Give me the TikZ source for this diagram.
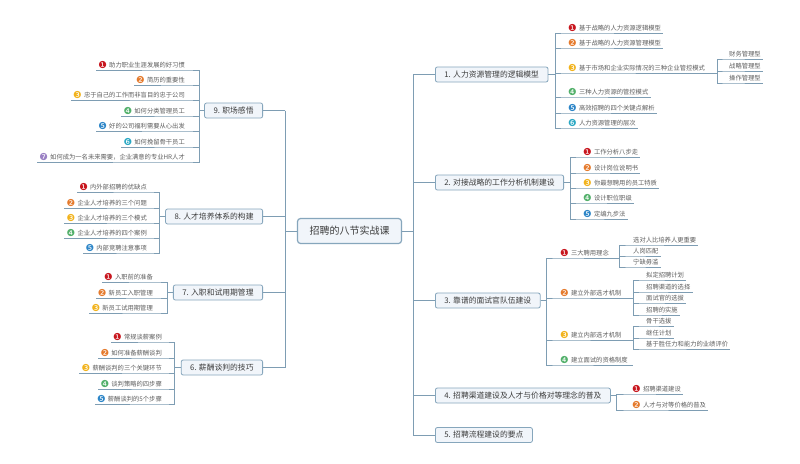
\documentclass[tikz,border=0pt]{standalone}
\usepackage{fontspec}
\setmainfont{Noto Sans CJK SC}
\newfontfamily\dingf{DejaVu Sans}
\usetikzlibrary{positioning}
\definecolor{lnc}{HTML}{7E9DB3}
\definecolor{boxc}{HTML}{86A6BC}
\definecolor{boxf}{HTML}{F1F5FA}
\definecolor{txc}{HTML}{3C3C3C}
\definecolor{itc}{HTML}{5E5E5E}
\definecolor{nc1}{HTML}{C8161E}
\definecolor{nc2}{HTML}{E57A2C}
\definecolor{nc3}{HTML}{F2B31C}
\definecolor{nc4}{HTML}{52B06A}
\definecolor{nc5}{HTML}{2D86C8}
\definecolor{nc6}{HTML}{2AA8C4}
\definecolor{nc7}{HTML}{9A80C4}
\newcommand\nb[1]{{\dingf\fontsize{9.6}{9.6}\selectfont\color{nc#1}\raisebox{-0.6pt}{\ifcase#1\or ❶\or ❷\or ❸\or ❹\or ❺\or ❻\or ❼\fi}}\hspace{2.2pt}}

\begin{document}
\begin{tikzpicture}[x=1pt,y=-1pt,
  ln/.style={draw=lnc,line width=0.8pt},
  topic/.style={draw=boxc,line width=1.2pt,fill=boxf,rounded corners=3pt,minimum width=104pt,minimum height=25pt,font=\fontsize{10}{10}\selectfont,text=txc},
  main/.style={draw=boxc,line width=0.8pt,fill=boxf,rounded corners=2pt,minimum height=15pt,inner xsep=9pt,font=\fontsize{7.8}{8}\selectfont,text=txc},
  sub/.style={inner xsep=2pt,inner ysep=1.2pt,text depth=1.2pt,font=\fontsize{6.3}{7}\selectfont,text=itc},
  subr/.style={sub,anchor=south west},
  subl/.style={sub,anchor=south east}]
  \fill[white] (0,0) rectangle (800,463);
  \useasboundingbox (0,0) rectangle (800,463);

  \node[topic] (c) at (349.5,231) {招聘的八节实战课};
  \coordinate (rt) at (413,0);
  \coordinate (lt) at (285,0);

  \node[main,anchor=west] (m1) at (435,74.5) {1. 人力资源管理的逻辑模型};
  \node[main,anchor=west] (m2) at (435,182.5) {2. 对接战略的工作分析机制建设};
  \node[main,anchor=west] (m3) at (435,300.5) {3. 靠谱的面试官队伍建设};
  \node[main,anchor=west] (m4) at (435,395.5) {4. 招聘渠道建设及人才与价格对等理念的普及};
  \node[main,anchor=west] (m5) at (435,435) {5. 招聘流程建设的要点};
  \node[main,anchor=east] (m9) at (263,110.5) {9. 职场感悟};
  \node[main,anchor=east] (m8) at (263,216.5) {8. 人才培养体系的构建};
  \node[main,anchor=east] (m7) at (263,292.5) {7. 入职和试用期管理};
  \node[main,anchor=east] (m6) at (263,367.5) {6. 薪酬谈判的技巧};

  \draw[ln] (c.east) -- (c.east -| rt);
  \draw[ln] (rt |- m1.west) -- (rt |- m5.west);
  \foreach \m in {m1,m2,m3,m4,m5}
    \draw[ln] (rt |- \m.west) -- (\m.west);
  \draw[ln] (c.west) -- (c.west -| lt);
  \draw[ln] (lt |- m9.east) -- (lt |- m6.east);
  \foreach \m in {m9,m8,m7,m6}
    \draw[ln] (lt |- \m.east) -- (\m.east);

  % 1
  \node[subr] (m1a) at (566,33) {\nb{1}基于战略的人力资源逻辑模型};
  \node[subr] (m1b) at (566,48) {\nb{2}基于战略的人力资源管理模型};
  \node[subr] (m1c) at (566,73) {\nb{3}基于市场和企业实际情况的三种企业管控模式};
  \node[subr] (m1d) at (566,97) {\nb{4}三种人力资源的管控模式};
  \node[subr] (m1e) at (566,113) {\nb{5}高效招聘的四个关键点解析};
  \node[subr] (m1f) at (566,128) {\nb{6}人力资源管理的层次};
  \foreach \i in {a,b,c,d,e,f}
    \draw[ln] (m1.east) -- ++(7,0) |- (m1\i.south west) -- (m1\i.south east);
  \coordinate (k1c) at (717,0);
  \node[subr] (m1c1) at (727,59) {财务管理型};
  \node[subr] (m1c2) at (727,71) {战略管理型};
  \node[subr] (m1c3) at (727,83) {操作管理型};
  \foreach \i in {1,2,3}
    \draw[ln] (m1c.south east) -- (m1c.south east -| k1c) |- (m1c\i.south west) -- (m1c\i.south east);

  % 2
  \node[subr] (m2a) at (581,157) {\nb{1}工作分析八步走};
  \node[subr] (m2b) at (581,173) {\nb{2}设计岗位说明书};
  \node[subr] (m2c) at (581,188) {\nb{3}你最想聘用的员工特质};
  \node[subr] (m2d) at (581,203) {\nb{4}设计职位职级};
  \node[subr] (m2e) at (581,219) {\nb{5}定编九步法};
  \foreach \i in {a,b,c,d,e}
    \draw[ln] (m2.east) -- ++(6,0) |- (m2\i.south west) -- (m2\i.south east);

  % 3
  \node[subr] (m3a) at (558,258) {\nb{1}三大聘用理念};
  \node[subr] (m3b) at (558,298) {\nb{2}建立外部选才机制};
  \node[subr] (m3c) at (558,340) {\nb{3}建立内部选才机制};
  \node[subr] (m3d) at (558,365) {\nb{4}建立面试的资格制度};
  \foreach \i in {a,b,c,d}
    \draw[ln] (m3.east) -- ++(6,0) |- (m3\i.south west) -- (m3\i.south east);
  \coordinate (k3a) at (619,0);
  \coordinate (k3b) at (633,0);
  \node[subr] (m3a1) at (631,245) {选对人比培养人更重要};
  \node[subr] (m3a2) at (631,256) {人岗匹配};
  \node[subr] (m3a3) at (631,267) {宁缺毋滥};
  \foreach \i in {1,2,3}
    \draw[ln] (m3a.south east) -- (m3a.south east -| k3a) |- (m3a\i.south west) -- (m3a\i.south east);
  \node[subr] (m3b1) at (644,280) {拟定招聘计划};
  \node[subr] (m3b2) at (644,292) {招聘渠道的选择};
  \node[subr] (m3b3) at (644,303) {面试官的选拔};
  \node[subr] (m3b4) at (644,315) {招聘的实施};
  \foreach \i in {1,2,3,4}
    \draw[ln] (m3b.south east) -- (m3b.south east -| k3b) |- (m3b\i.south west) -- (m3b\i.south east);
  \node[subr] (m3c1) at (644,326) {骨干选拔};
  \node[subr] (m3c2) at (644,338) {继任计划};
  \node[subr] (m3c3) at (644,349) {基于胜任力和能力的业绩评价};
  \foreach \i in {1,2,3}
    \draw[ln] (m3c.south east) -- (m3c.south east -| k3b) |- (m3c\i.south west) -- (m3c\i.south east);
  \draw[ln] (m3d.south east) -- (m3d.south east -| k3b);

  % 4
  \node[subr] (m4a) at (630,394) {\nb{1}招聘渠道建设};
  \node[subr] (m4b) at (630,410) {\nb{2}人才与对等价格的普及};
  \foreach \i in {a,b}
    \draw[ln] (m4.east) -- ++(6,0) |- (m4\i.south west) -- (m4\i.south east);

  % 9
  \node[subl] (m9a) at (187,70) {\nb{1}助力职业生涯发展的好习惯};
  \node[subl] (m9b) at (187,85) {\nb{2}简历的重要性};
  \node[subl] (m9c) at (187,100) {\nb{3}忠于自己的工作而非盲目的忠于公司};
  \node[subl] (m9d) at (187,116) {\nb{4}如何分类管理员工};
  \node[subl] (m9e) at (187,131) {\nb{5}好的公司福利需要从心出发};
  \node[subl] (m9f) at (187,147) {\nb{6}如何挽留骨干员工};
  \node[subl] (m9g) at (187,162) {\nb{7}如何成为一名未来需要，企业满意的专业HR人才};
  \foreach \i in {a,b,c,d,e,f,g}
    \draw[ln] (m9.west) -- ++(-5,0) |- (m9\i.south east) -- (m9\i.south west);

  % 8
  \node[subl] (m8a) at (149,192) {\nb{1}内外部招聘的优缺点};
  \node[subl] (m8b) at (149,208) {\nb{2}企业人才培养的三个问题};
  \node[subl] (m8c) at (149,223) {\nb{3}企业人才培养的三个模式};
  \node[subl] (m8d) at (149,238) {\nb{4}企业人才培养的四个案例};
  \node[subl] (m8e) at (149,253) {\nb{5}内部竞聘注意事项};
  \foreach \i in {a,b,c,d,e}
    \draw[ln] (m8.west) -- ++(-6,0) |- (m8\i.south east) -- (m8\i.south west);

  % 7
  \node[subl] (m7a) at (155,282) {\nb{1}入职前的准备};
  \node[subl] (m7b) at (155,298) {\nb{2}新员工入职管理};
  \node[subl] (m7c) at (155,313) {\nb{3}新员工试用期管理};
  \foreach \i in {a,b,c}
    \draw[ln] (m7.west) -- ++(-6,0) |- (m7\i.south east) -- (m7\i.south west);

  % 6
  \node[subl] (m6a) at (164,342) {\nb{1}常规谈薪案例};
  \node[subl] (m6b) at (164,358) {\nb{2}如何准备薪酬谈判};
  \node[subl] (m6c) at (164,373) {\nb{3}薪酬谈判的三个关键环节};
  \node[subl] (m6d) at (164,389) {\nb{4}谈判策略的四步骤};
  \node[subl] (m6e) at (164,404) {\nb{5}薪酬谈判的5个步骤};
  \foreach \i in {a,b,c,d,e}
    \draw[ln] (m6.west) -- ++(-6,0) |- (m6\i.south east) -- (m6\i.south west);
\end{tikzpicture}
\end{document}
